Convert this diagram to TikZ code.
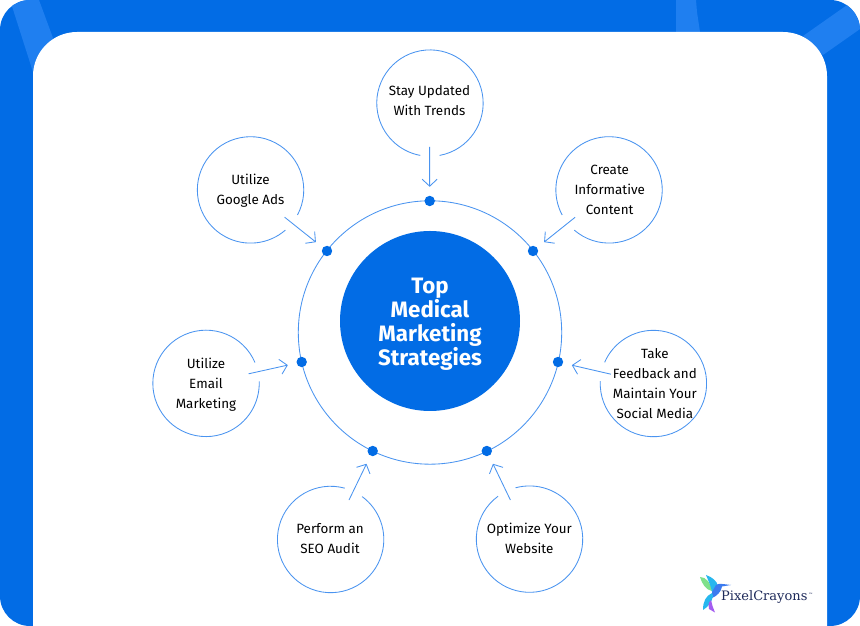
\documentclass[tikz,border=0pt]{standalone}
\usepackage{fontspec}
\setmainfont{Fira Sans}
\newfontfamily\logofont{DejaVu Serif}
\usetikzlibrary{arrows.meta}
\definecolor{brandblue}{HTML}{026CE5}
\definecolor{stripeblue}{HTML}{1F7FF0}
\definecolor{thinblue}{HTML}{4A94F0}
\definecolor{logoink}{HTML}{1E2A5A}
\definecolor{birdcyan}{HTML}{27B7EE}
\definecolor{birdblue}{HTML}{3C7BEF}
\definecolor{birdpurple}{HTML}{A45CF0}
\definecolor{birdgreen}{HTML}{7FE08A}
\tikzset{
  topic/.style={circle,minimum size=106.4pt,inner sep=0pt,outer sep=0pt},
  topictext/.style={font=\fontsize{13.4}{20}\selectfont,align=center,text=black,inner sep=0pt},
  hub/.style={circle,fill=brandblue,minimum size=180pt,inner sep=0pt},
  hubtext/.style={text=white,align=center,font=\bfseries\fontsize{22.3}{24}\selectfont,inner sep=0pt},
  dotnode/.style={circle,fill=brandblue,minimum size=10.4pt,inner sep=0pt,outer sep=0pt},
  outline/.style={thinblue,line width=0.85pt},
  feeder/.style={thinblue,line width=0.85pt,-{Straight Barb[length=7pt,width=15pt,line width=0.85pt]},shorten <=-9.6pt,shorten >=9pt},
}
\begin{document}
\begin{tikzpicture}[x=1pt,y=1pt]
\useasboundingbox (0,0) rectangle (860,626);
% blue frame with stripes
\begin{scope}
  \clip[rounded corners=30pt] (0,0) rectangle (860,626);
  \fill[brandblue] (0,0) rectangle (860,626);
  \fill[stripeblue] (10,626) -- (39,626) -- (53,588) -- (33,554) -- cycle;
  \fill[stripeblue] (676,626) -- (696,626) -- (697,614) -- (700,594) -- (676,594) -- cycle;
  \fill[stripeblue] (803,590) -- (850,623) -- (870,604) -- (823,571) -- cycle;
\end{scope}
\fill[white,rounded corners=44pt] (33,-60) rectangle (827,594);
\fill[white] (33,0) rectangle (827,30);
% ring
\coordinate (ringc) at (430,293.5);
\draw[outline] (ringc) circle[radius=131.7pt];
\node[hub,label={[hubtext,yshift=-3pt]center:Top\\Medical\\Marketing\\Strategies}] (hubnode) at (430,305) {};
% dots
\node[dotnode] (d1) at (429.7,425) {};
\node[dotnode] (d2) at (533,375) {};
\node[dotnode] (d3) at (558,264) {};
\node[dotnode] (d4) at (486.8,175) {};
\node[dotnode] (d5) at (372.7,175) {};
\node[dotnode] (d6) at (301.7,264) {};
\node[dotnode] (d7) at (327,375) {};
% topic circles
\node[topic,label={[topictext,yshift=3pt]center:Stay Updated\\With Trends}] (c1) at (429.5,522.8) {};
\node[topic,label={[topictext,xshift=0.5pt]center:Create\\Informative\\Content}] (c2) at (609.2,436) {};
\node[topic,label={[topictext,xshift=1.5pt]center:Take\\Feedback and\\Maintain Your\\Social Media}] (c3) at (653.4,242) {};
\node[topic,label={[topictext,yshift=1pt]center:Optimize Your\\Website}] (c4) at (529.3,86.7) {};
\node[topic,label={[topictext,yshift=1pt]center:Perform an\\SEO Audit}] (c5) at (330,86.7) {};
\node[topic,label={[topictext,yshift=-1.5pt]center:Utilize\\Email\\Marketing}] (c6) at (206,242.7) {};
\node[topic,label={[topictext,yshift=-1pt]center:Utilize\\Google Ads}] (c7) at (250.5,436) {};
% outlines with a gap where each connector leaves
\foreach \n/\a in {c1/-90,c2/218.7,c3/167,c4/115.8,c5/64.2,c6/12.6,c7/-38.6}{
  \pgfmathsetmacro{\sa}{\a+10.5}
  \draw[outline] (\n.\sa) arc[start angle=\sa,delta angle=339,radius=53.2pt];
}
% connectors
\foreach \i in {1,...,7}{
  \draw[feeder] (c\i) -- (d\i);
}
% logo
\begin{scope}[shift={(0,626)},y=-1pt]
  \fill[birdgreen] (700,577) .. controls (706,577) and (711,583) .. (712,591) .. controls (706,590) and (702,584) .. (700,577) -- cycle;
  \fill[birdcyan] (706,575) .. controls (712,577) and (717,581) .. (718,586) -- (712,592) .. controls (711,586) and (708,580) .. (706,575) -- cycle;
  \fill[birdblue] (712,592) -- (716,585) .. controls (719,583) and (722,584) .. (731,585) -- (722,586.5) .. controls (721,592) and (717,596) .. (712,598) -- cycle;
  \fill[birdcyan] (712,593) .. controls (706,596) and (703,601) .. (703,610) .. controls (708,607) and (712,602) .. (713,596) -- cycle;
  \fill[birdpurple] (711,600) .. controls (708,603) and (708,606) .. (709,609) -- (715,612.5) -- (712.5,606) -- cycle;
\end{scope}
\node[font=\logofont\fontsize{13}{13}\selectfont,text=logoink,anchor=west,inner sep=0pt] (logo) at (721,28.5) {PixelCrayons};
\node[font=\logofont\fontsize{4.5}{5}\selectfont,text=logoink,anchor=west,inner sep=0pt] (tm) at (808.5,31) {™};
\end{tikzpicture}
\end{document}
